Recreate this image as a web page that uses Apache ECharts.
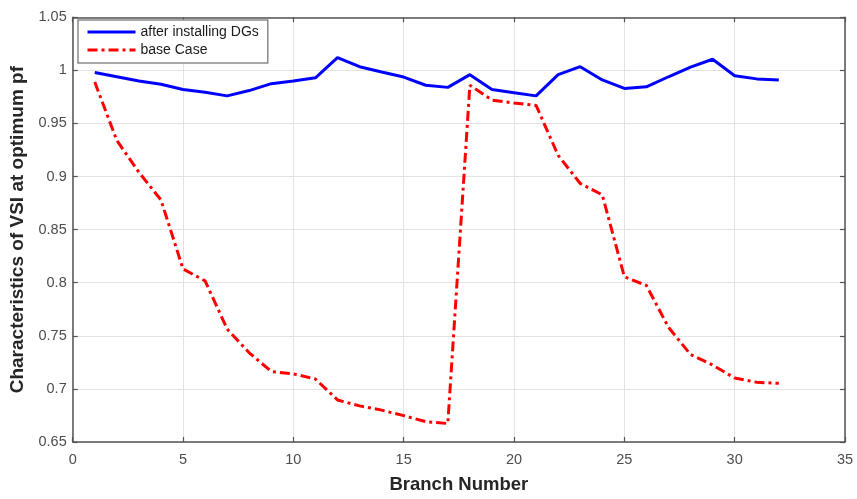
<!DOCTYPE html>
<html>
<head>
<meta charset="utf-8">
<script src="https://cdn.jsdelivr.net/npm/echarts@6/dist/echarts.min.js"></script>
<style>
  html, body { margin: 0; padding: 0; background: #fff; }
  #chart { width: 857px; height: 499px; }
</style>
</head>
<body>
<div id="chart"></div>
<script>
// Branch indices along the feeder
const branches = [1, 2, 3, 4, 5, 6, 7, 8, 9, 10, 11, 12, 13, 14, 15, 16,
                  17, 18, 19, 20, 21, 22, 23, 24, 25, 26, 27, 28, 29, 30, 31, 32];

// VSI after installing DGs
const afterDG = [0.998, 0.994, 0.990, 0.987, 0.982, 0.9795, 0.976, 0.981,
                 0.9875, 0.990, 0.993, 1.012, 1.0035, 0.9985, 0.9937, 0.986,
                 0.984, 0.996, 0.982, 0.979, 0.976, 0.996, 1.0035, 0.991,
                 0.983, 0.9845, 0.994, 1.003, 1.0105, 0.995, 0.992, 0.991];

// VSI for the base case
const baseCase = [0.989, 0.934, 0.904, 0.878, 0.813, 0.8017, 0.7564, 0.734,
                  0.7164, 0.7142, 0.7093, 0.6896, 0.684, 0.680, 0.6748, 0.6692,
                  0.6674, 0.986, 0.972, 0.9693, 0.967, 0.920, 0.8935, 0.8828,
                  0.8057, 0.7974, 0.758, 0.7324, 0.7225, 0.7102, 0.7062, 0.7053];

const seriesNames = ['after installing DGs', 'base Case'];
const xTickLabels = ['0', '5', '10', '15', '20', '25', '30', '35'];
const yTickLabels = ['0.65', '0.7', '0.75', '0.8', '0.85', '0.9', '0.95', '1', '1.05'];

const FONT = "'Liberation Sans', Arial, Helvetica, sans-serif";
const AXIS_COLOR = '#555555';
const GRID_COLOR = '#e3e3e3';

const xMin = 0, xMax = 35, xStep = 5;
const yMin = 0.65, yMax = 1.05, yStep = 0.05;

function xLabel(v) {
  const i = Math.round((v - xMin) / xStep);
  return xTickLabels[i] !== undefined ? xTickLabels[i] : '';
}
function yLabel(v) {
  const i = Math.round((v - yMin) / yStep);
  return yTickLabels[i] !== undefined ? yTickLabels[i] : '';
}

const tickLabelStyle = { color: '#4d4d4d', fontSize: 14.5, fontFamily: FONT };

const chart = echarts.init(document.getElementById('chart'), null, { renderer: 'canvas' });

chart.setOption({
  animation: false,
  backgroundColor: '#ffffff',
  grid: { left: 72.7, right: 12, top: 17.3, bottom: 49, containLabel: false },
  legend: {
    orient: 'vertical',
    left: 78,
    top: 20,
    padding: [5, 9, 6, 8],
    itemGap: 4,
    itemWidth: 48,
    itemHeight: 14,
    backgroundColor: '#ffffff',
    borderColor: '#8a8a8a',
    borderWidth: 1.5,
    borderRadius: 0,
    // plain line keys, no marker in the middle
    itemStyle: { opacity: 0 },
    lineStyle: { width: 3 },
    textStyle: { color: '#1a1a1a', fontSize: 14, fontFamily: FONT },
    data: seriesNames
  },
  xAxis: [
    {
      type: 'value', min: xMin, max: xMax, interval: xStep,
      name: 'Branch Number', nameLocation: 'middle', nameGap: 33,
      nameTextStyle: { color: '#262626', fontSize: 18.5, fontWeight: 'bold', fontFamily: FONT },
      axisLine: { show: true, onZero: false, lineStyle: { color: AXIS_COLOR, width: 1.5 } },
      axisTick: { show: true, inside: true, length: 5, lineStyle: { color: AXIS_COLOR, width: 1.2 } },
      axisLabel: Object.assign({ margin: 10, formatter: xLabel }, tickLabelStyle),
      splitLine: { show: true, lineStyle: { color: GRID_COLOR, width: 1 } }
    },
    {
      type: 'value', position: 'top', min: xMin, max: xMax, interval: xStep,
      axisLine: { show: true, onZero: false, lineStyle: { color: AXIS_COLOR, width: 1.5 } },
      axisTick: { show: true, inside: true, length: 5, lineStyle: { color: AXIS_COLOR, width: 1.2 } },
      axisLabel: { show: false },
      splitLine: { show: false }
    }
  ],
  yAxis: [
    {
      type: 'value', min: yMin, max: yMax, interval: yStep,
      name: 'Characteristics of VSI at optimum pf', nameLocation: 'middle', nameGap: 40,
      nameTextStyle: { color: '#262626', fontSize: 19, fontWeight: 'bold', fontFamily: FONT },
      axisLine: { show: true, onZero: false, lineStyle: { color: AXIS_COLOR, width: 1.5 } },
      axisTick: { show: true, inside: true, length: 5, lineStyle: { color: AXIS_COLOR, width: 1.2 } },
      axisLabel: Object.assign({ margin: 6, formatter: yLabel }, tickLabelStyle),
      splitLine: { show: true, lineStyle: { color: GRID_COLOR, width: 1 } }
    },
    {
      type: 'value', position: 'right', min: yMin, max: yMax, interval: yStep,
      axisLine: { show: true, onZero: false, lineStyle: { color: AXIS_COLOR, width: 1.5 } },
      axisTick: { show: true, inside: true, length: 5, lineStyle: { color: AXIS_COLOR, width: 1.2 } },
      axisLabel: { show: false },
      splitLine: { show: false }
    }
  ],
  series: [
    {
      name: seriesNames[0],
      type: 'line',
      symbol: 'none',
      data: branches.map((b, i) => [b, afterDG[i]]),
      lineStyle: { color: '#0000ff', width: 3 },
      itemStyle: { color: '#0000ff' },
      z: 3
    },
    {
      name: seriesNames[1],
      type: 'line',
      symbol: 'none',
      data: branches.map((b, i) => [b, baseCase[i]]),
      lineStyle: { color: '#ff0000', width: 3, type: [10, 4, 3, 4] },
      itemStyle: { color: '#ff0000' },
      z: 2
    }
  ]
});
</script>
</body>
</html>
